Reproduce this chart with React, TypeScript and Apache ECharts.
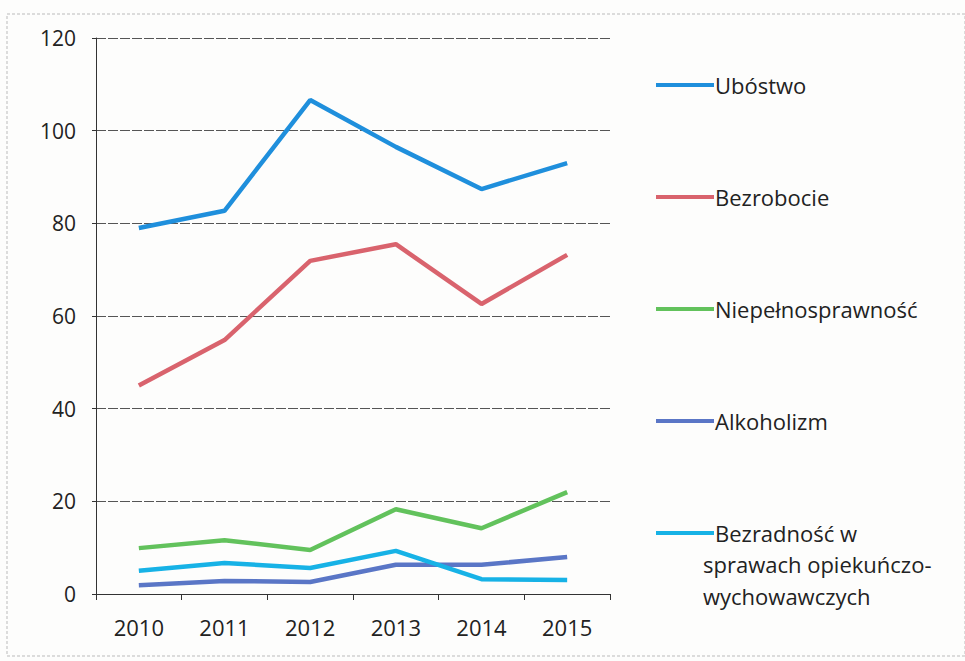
import React, { useEffect, useRef } from "react";
import * as echarts from "echarts";

const categories = ["2010", "2011", "2012", "2013", "2014", "2015"];
const ubostwo = [79, 82.7, 106.6, 96.5, 87.4, 93];
const bezrobocie = [45, 54.8, 71.9, 75.5, 62.6, 73.2];
const niepelnosprawnosc = [9.9, 11.6, 9.5, 18.3, 14.2, 22];
const alkoholizm = [1.9, 2.8, 2.6, 6.3, 6.3, 8];
const bezradnosc = [5, 6.7, 5.6, 9.3, 3.2, 3];

const seriesNames = [
  "Ubóstwo",
  "Bezrobocie",
  "Niepełnosprawność",
  "Alkoholizm",
  "Bezradność w sprawach opiekuńczo-wychowawczych",
];
const seriesData = [ubostwo, bezrobocie, niepelnosprawnosc, alkoholizm, bezradnosc];
const colors = ["#1f8fdc", "#d9636d", "#62c25c", "#5a76c6", "#17b2e6"];

const FONT = "'Open Sans', 'Noto Sans', sans-serif";

export default function App() {
  const ref = useRef<HTMLDivElement>(null);
  useEffect(() => {
    if (!ref.current) return;
    const chart = echarts.init(ref.current, undefined, { renderer: "svg" });
    const legendTops = [67, 179, 291, 403, 515];
    chart.setOption({
      animation: false,
      backgroundColor: "#fdfdfc",
      grid: { left: 96, right: 355, top: 38, bottom: 67, containLabel: false },
      xAxis: {
        type: "category",
        data: categories,
        boundaryGap: true,
        axisLine: { show: true, lineStyle: { color: "#333", width: 1 } },
        axisTick: { show: true, length: 6, lineStyle: { color: "#333" } },
        axisLabel: { fontSize: 22, color: "#222", fontFamily: FONT, margin: 22 },
        splitLine: { show: false },
      },
      yAxis: {
        type: "value",
        min: 0,
        max: 120,
        interval: 20,
        axisLine: { show: true, lineStyle: { color: "#333", width: 1 } },
        axisTick: { show: true, length: 4, lineStyle: { color: "#333" } },
        axisLabel: { fontSize: 21, color: "#222", fontFamily: FONT, margin: 20 },
        splitLine: { show: true, lineStyle: { color: "#555", width: 1, type: [10, 2] } },
      },
      legend: seriesNames.map((name, i) => ({
        data: [name],
        orient: "vertical",
        left: 651,
        top: legendTops[i],
        itemWidth: 58,
        itemHeight: 4,
        itemGap: 2,
        selectedMode: false,
        icon: "rect",
        formatter: (n: string) => (i === 4 ? "Bezradność w" : n),
        textStyle: {
          fontSize: 22,
          lineHeight: 26,
          color: "#222",
          fontFamily: FONT,
          padding: [0, 0, 0, -4],
        },
      })),
      graphic: [
        {
          type: "text",
          left: 703,
          top: 548,
          style: {
            text: "sprawach opiekuńczo-\nwychowawczych",
            fontSize: 22,
            lineHeight: 32,
            fill: "#222",
            fontFamily: FONT,
          },
        },
        {
          type: "rect",
          shape: { x: 7, y: 14, width: 958, height: 642 },
          style: { fill: "none", stroke: "#bbb", lineWidth: 1, lineDash: [3, 2] },
          silent: true,
        },
      ],
      series: seriesNames.map((name, i) => ({
        name,
        type: "line",
        data: seriesData[i],
        symbol: "none",
        lineStyle: { color: colors[i], width: 4.5 },
        itemStyle: { color: colors[i] },
      })),
    });
    return () => chart.dispose();
  }, []);
  return (
    <div
      ref={ref}
      style={{ position: "fixed", left: 0, top: 0, width: 965, height: 661 }}
    />
  );
}
